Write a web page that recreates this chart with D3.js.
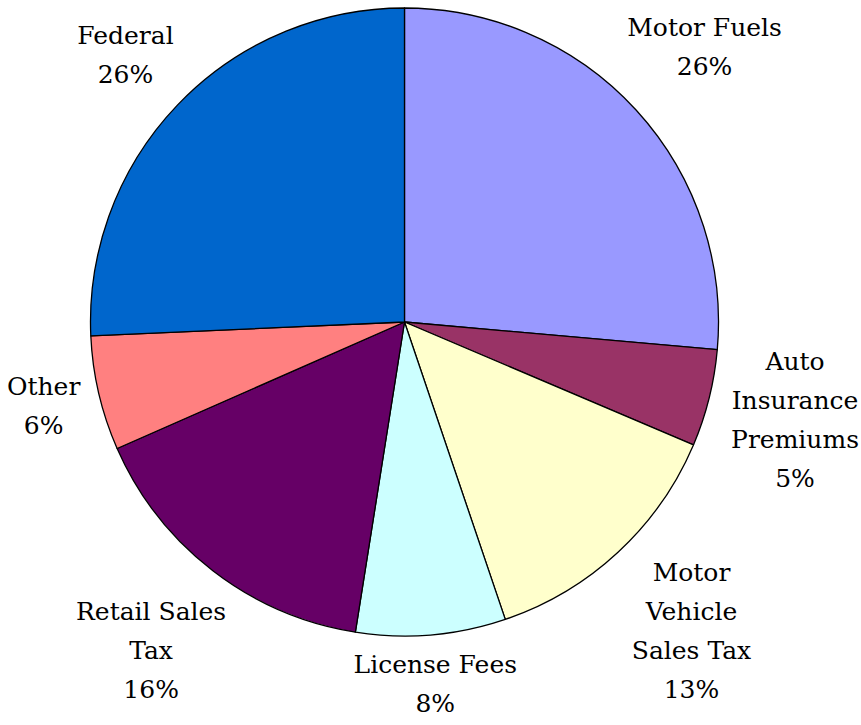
<!DOCTYPE html>
<html>
<head>
<meta charset="utf-8">
<script src="https://cdn.jsdelivr.net/npm/d3@7"></script>
<style>
  html, body { margin: 0; padding: 0; background: #fff; }
  svg { display: block; }
  text { font-family: "DejaVu Serif", "Liberation Serif", serif; font-size: 25px; fill: #000; }
</style>
</head>
<body>
<svg id="chart" width="861" height="725"></svg>
<script>
// clockwise from 12 o'clock
const categories = ["Motor Fuels", "Auto\nInsurance\nPremiums", "Motor\nVehicle\nSales Tax",
                    "License Fees", "Retail Sales\nTax", "Other", "Federal"];
const shares = [26.4, 5.0, 13.4, 7.7, 15.9, 5.9, 25.7];
const colors = ["#9999FF", "#993366", "#FFFFCC", "#CCFFFF", "#660066", "#FF8080", "#0066CC"];

const svg = d3.select("#chart");
const W = +svg.attr("width"), H = +svg.attr("height");
const cx = 404.5, cy = 322, R = 314;

const data = categories.map((c, i) => ({name: c, value: shares[i], color: colors[i]}));
const total = d3.sum(shares);

const pie = d3.pie().sort(null).value(d => d.value);
const arc = d3.arc().innerRadius(0).outerRadius(R);
const arcs = pie(data);

const g = svg.append("g").attr("transform", `translate(${cx},${cy})`);

g.selectAll("path")
  .data(arcs)
  .join("path")
  .attr("d", arc)
  .attr("fill", d => d.data.color)
  .attr("stroke", "#000")
  .attr("stroke-width", 1.3)
  .attr("stroke-linejoin", "round");

// labels sit on the slice's mid-angle ray, pushed out until the nearest
// point of the text box is a fixed gap outside the pie
const lineH = 39, gapR = R + 14, pad = 2;
const clamp = (v, lo, hi) => Math.max(lo, Math.min(hi, v));

arcs.forEach(d => {
  const lines = d.data.name.split("\n").concat([Math.round(d.data.value / total * 100) + "%"]);
  const t = svg.append("text").attr("text-anchor", "middle");
  lines.forEach((s, i) => t.append("tspan").attr("x", 0).attr("y", i * lineH).text(s));
  const bb = t.node().getBBox();
  const hw = bb.width / 2, hh = bb.height / 2;
  const a = (d.startAngle + d.endAngle) / 2;
  const sx = Math.sin(a), sy = -Math.cos(a);
  const nearest = r => {
    const bx = r * sx, by = r * sy;
    const px = clamp(0, bx - hw, bx + hw), py = clamp(0, by - hh, by + hh);
    return Math.hypot(px, py);
  };
  let lo = 0, hi = 1000;
  for (let k = 0; k < 40; k++) {
    const mid = (lo + hi) / 2;
    if (nearest(mid) < gapR) lo = mid; else hi = mid;
  }
  let x = cx + hi * sx, y = cy + hi * sy;
  x = clamp(x, hw + pad, W - hw - pad);
  y = clamp(y, hh + pad, H - hh - pad);
  t.attr("transform", `translate(${x},${y - hh - bb.y})`);
});
</script>
</body>
</html>
